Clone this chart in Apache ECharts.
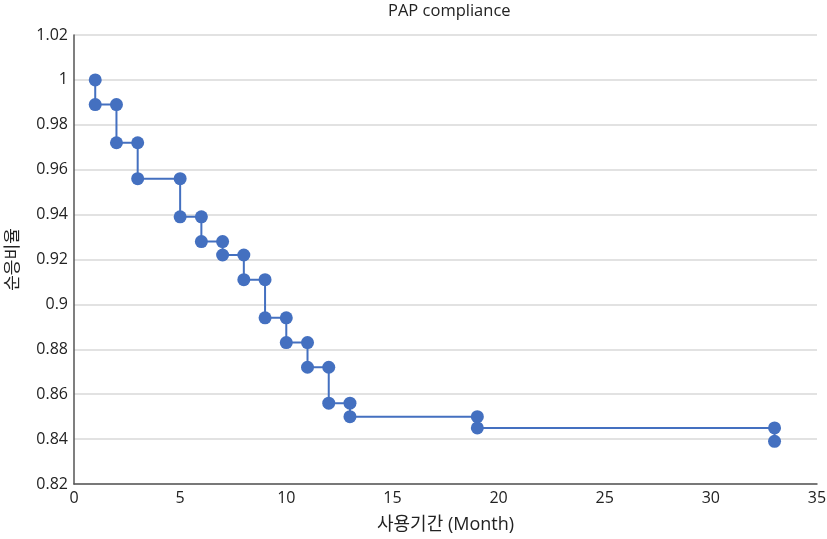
<!DOCTYPE html>
<html><head><meta charset="utf-8">
<script src="https://cdn.jsdelivr.net/npm/echarts@6/dist/echarts.min.js"></script>
<style>html,body{margin:0;padding:0;background:#fff}#c{width:827px;height:539px}</style>
</head><body><div id="c"></div>
<script>
const months = [1, 1, 2, 2, 3, 3, 5, 5, 6, 6, 7, 7, 8, 8, 9, 9, 10, 10, 11, 11, 12, 12, 13, 13, 19, 19, 33, 33];
const compliance = [1.0, 0.989, 0.989, 0.972, 0.972, 0.956, 0.956, 0.939, 0.939, 0.928, 0.928, 0.922, 0.922, 0.911, 0.911, 0.894, 0.894, 0.883, 0.883, 0.872, 0.872, 0.856, 0.856, 0.850, 0.850, 0.845, 0.845, 0.839];
const titleText = 'PAP compliance';
const xName = '사용기간 (Month)';
const yName = '순응비율';

const chart = echarts.init(document.getElementById('c'));
const font = '"Open Sans", "Noto Sans CJK KR", sans-serif';
chart.setOption({
  animation: false,
  textStyle: {fontFamily: font},
  title: {text: titleText, left: 383, top: -2, textStyle: {fontSize: 16.5, fontWeight: 'normal', color: '#222', fontFamily: font}},
  grid: {left: 74, right: 10, top: 35, bottom: 55, containLabel: false, outerBoundsMode: 'none'},
  xAxis: {
    type: 'value', min: 0, max: 35, interval: 5,
    name: xName, nameLocation: 'middle', nameGap: 32,
    nameTextStyle: {fontSize: 18, color: '#222', fontFamily: font},
    axisLine: {show: true, lineStyle: {color: '#555', width: 1.5}},
    axisTick: {show: false},
    axisLabel: {fontSize: 16, color: '#222', margin: 6},
    splitLine: {show: false}
  },
  yAxis: {
    type: 'value', min: 0.82, max: 1.02, interval: 0.02,
    name: yName, nameLocation: 'middle', nameGap: 52, nameRotate: 90,
    nameTextStyle: {fontSize: 17, color: '#222', fontFamily: font},
    axisLine: {show: true, lineStyle: {color: '#555', width: 1.5}},
    axisTick: {show: false},
    axisLabel: {fontSize: 16, color: '#222', margin: 6, formatter: v => String(+v.toFixed(2))},
    splitLine: {show: true, lineStyle: {color: '#d9d9d9', width: 1.5}}
  },
  series: [{
    type: 'line',
    data: months.map((m, i) => [m, compliance[i]]),
    symbol: 'circle', symbolSize: 13,
    lineStyle: {color: '#4470c0', width: 2},
    itemStyle: {color: '#4470c0'}
  }]
});
</script></body></html>
